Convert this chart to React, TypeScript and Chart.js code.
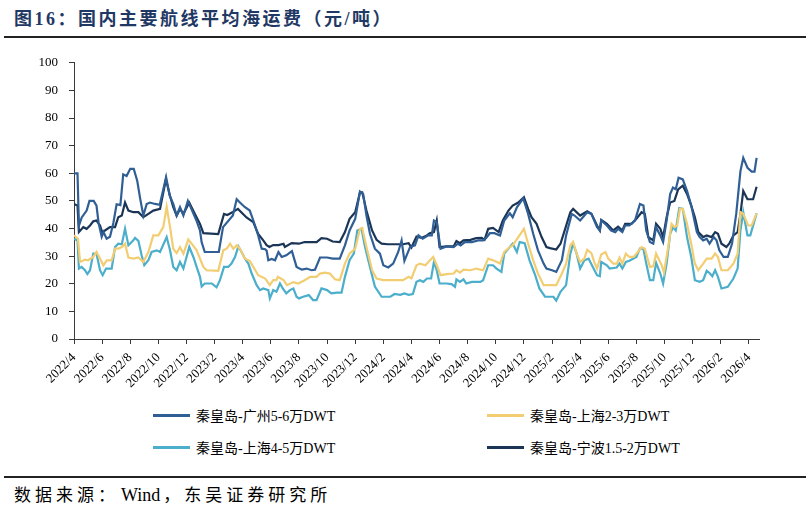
import React, { useEffect, useRef } from "react";
import { Chart, registerables } from "chart.js";

Chart.register(...registerables);

// x values are months counted from 2022/4 (0 = 2022/4, 48 = 2026/4)
const tickMonths = [0, 2, 4, 6, 8, 10, 12, 14, 16, 18, 20, 22, 24, 26, 28, 30, 32, 34, 36, 38, 40, 42, 44, 46, 48];
const tickLabels = [
  "2022/4", "2022/6", "2022/8", "2022/10", "2022/12",
  "2023/2", "2023/4", "2023/6", "2023/8", "2023/10", "2023/12",
  "2024/2", "2024/4", "2024/6", "2024/8", "2024/10", "2024/12",
  "2025/2", "2025/4", "2025/6", "2025/8", "2025/10", "2025/12",
  "2026/2", "2026/4",
];

const seriesNames = ["秦皇岛-广州5-6万DWT", "秦皇岛-上海2-3万DWT", "秦皇岛-上海4-5万DWT", "秦皇岛-宁波1.5-2万DWT"];
const seriesColors = ["#2F5F95", "#F2CD72", "#4BAECB", "#1B3556"];

// 秦皇岛-广州 5-6万DWT, [month, 元/吨]
const guangzhou56: [number, number][] = [
  [0, 60], [0.25, 60], [0.35, 41], [0.55, 44], [0.9, 46.5], [1.1, 50], [1.4, 50], [1.6, 48.3], [1.75, 42],
  [1.97, 37], [2.1, 38.7], [2.32, 36.3], [2.56, 37], [2.8, 42], [3.03, 48.8], [3.3, 48.5], [3.5, 59.6],
  [3.74, 59], [4.0, 61.6], [4.25, 61.6], [4.5, 57.2], [4.7, 51], [4.93, 44.7], [5.17, 48.9], [5.4, 49.4],
  [5.76, 48.9], [6.1, 48.6], [6.55, 58.6], [6.8, 52], [7.06, 48.9], [7.3, 44.7], [7.54, 47.7], [7.78, 44.7],
  [8.1, 50], [8.4, 46.5], [8.7, 43], [8.96, 39.3], [9.08, 35], [9.3, 31.5], [10.3, 31.5], [10.6, 40.5],
  [11.3, 44.7], [11.57, 50.6], [11.8, 49.4], [12.16, 47.7], [12.5, 46.5], [12.75, 43], [13.1, 37.5],
  [13.35, 32.7], [13.6, 32.5], [13.7, 32], [13.82, 28.5], [14.06, 29], [14.3, 28.5], [14.54, 31.5],
  [14.77, 29.7], [15.1, 30.3], [15.5, 31.8], [15.83, 26.1], [16.2, 25.1], [16.55, 25.5], [16.9, 24.9],
  [17.14, 25.1], [17.5, 29.5], [18, 29.5], [18.4, 29.1], [18.9, 29.1], [19.27, 33.9], [19.6, 39.3], [20, 43.5],
  [20.34, 53.4], [20.57, 52.5], [20.8, 44.7], [21.05, 38.1], [21.4, 32.7], [21.76, 30.9], [22, 26.7],
  [22.35, 25.9], [22.7, 27.3], [23.06, 31.5], [23.3, 35.7], [23.5, 28.3], [23.9, 33.3], [24.25, 33.9],
  [24.5, 37.5], [24.8, 36.3], [25.2, 37.5], [25.45, 37.5], [25.6, 42.9], [25.8, 42.3], [26.07, 32.7],
  [26.5, 33.5], [27, 33.3], [27.3, 34.5], [27.5, 33.9], [27.8, 35.1], [28.3, 35.1], [28.75, 35.7], [29.1, 35.7],
  [29.3, 36.5], [29.58, 38.3], [29.9, 38.3], [30.3, 37.5], [30.6, 42.9], [31, 45.5], [31.2, 44.1], [31.5, 47.7],
  [31.95, 50.9], [32.3, 45.3], [32.66, 38.1], [33.0, 32.1], [33.4, 27.3], [33.6, 25.5], [34, 24.9], [34.3, 24.3],
  [34.7, 28.5], [35, 37.5], [35.4, 45.3], [35.6, 44.7], [36, 42.9], [36.5, 45.9], [36.8, 45.3], [37.2, 40.5],
  [37.4, 39.3], [37.5, 42.9], [37.9, 41.1], [38.2, 39.3], [38.5, 38.7], [38.7, 39.9], [39, 38.7], [39.2, 41.1],
  [39.5, 41.1], [39.9, 42.9], [40.25, 48.9], [40.5, 48.3], [40.7, 39.3], [40.96, 35.1], [41.2, 34.5],
  [41.4, 40.5], [41.7, 37.5], [41.9, 35.1], [42.15, 42.9], [42.4, 52.5], [42.6, 54.8], [42.8, 54.2],
  [43.0, 58.4], [43.3, 57.8], [43.6, 53.6], [43.9, 48.3], [44.3, 38.7], [44.5, 36.9], [44.75, 35.7],
  [45.0, 36.3], [45.2, 34.5], [45.5, 36.9], [45.7, 35.7], [45.9, 32.1], [46.2, 29.7], [46.5, 29.7],
  [46.8, 34.5], [47.1, 45.3], [47.4, 60.8], [47.6, 65.6], [47.9, 62], [48.2, 60.6], [48.4, 60.6], [48.55, 65.6],
];

// 秦皇岛-上海 2-3万DWT
const shanghai23: [number, number][] = [
  [0, 37.5], [0.28, 36.3], [0.43, 27.9], [0.78, 28.7], [1.0, 28.5], [1.37, 29.7], [1.6, 31.5], [1.85, 29.1],
  [2.09, 26.7], [2.33, 28.5], [2.68, 28.5], [2.92, 32.7], [3.15, 32.7], [3.4, 33.3], [3.63, 34.5], [3.87, 29.5],
  [4.22, 29.1], [4.58, 29.5], [4.93, 27.9], [5.29, 31.5], [5.64, 37.5], [6.0, 37.5], [6.35, 40.5], [6.59, 47.9],
  [6.83, 40.5], [7.06, 32.7], [7.3, 31.1], [7.54, 33.3], [7.78, 30.9], [8.13, 36], [8.37, 34.5], [8.72, 32.1],
  [8.96, 29.1], [9.2, 26.1], [9.43, 24.9], [10.26, 24.7], [10.62, 32.1], [10.86, 32.7], [11.1, 34.5],
  [11.33, 32.7], [11.57, 33.9], [11.8, 32.7], [12.16, 29.1], [12.5, 28.3], [12.75, 26.1], [13.1, 23.1],
  [13.6, 21.9], [13.93, 19.5], [14.17, 21.3], [14.4, 21.3], [14.5, 22.5], [14.9, 21.3], [15.15, 19.5],
  [15.6, 20.6], [15.95, 20.1], [16.4, 21.3], [16.8, 22.5], [17.25, 22.5], [17.5, 23.7], [17.85, 24],
  [18.2, 23.7], [18.56, 21.6], [18.9, 21.3], [19.27, 27.3], [19.6, 30.9], [20, 32.7], [20.34, 39.9],
  [20.5, 40.2], [20.8, 33.3], [21.2, 24.9], [21.52, 21.9], [22, 21.3], [23.4, 21.3], [23.8, 22.5], [24, 21.9],
  [24.36, 26.7], [24.6, 27.3], [25, 26.7], [25.2, 27.9], [25.55, 29.7], [25.8, 26.7], [26.07, 23.1],
  [26.5, 23.5], [27, 23.7], [27.2, 24.9], [27.45, 24], [27.7, 25.1], [28.2, 24.9], [28.6, 25.5], [29.1, 24.9],
  [29.46, 29.1], [29.9, 28.3], [30.3, 27.3], [30.6, 31.5], [31, 33.3], [31.2, 33.9], [31.6, 36.9], [32, 39.9],
  [32.3, 34.5], [32.66, 28.5], [33, 23.7], [33.4, 19.5], [34.3, 19.5], [34.7, 23.7], [35, 27.3], [35.3, 33.9],
  [35.5, 35.1], [35.75, 30.9], [36, 27.9], [36.3, 29.1], [36.5, 32.3], [36.8, 31.1], [37, 27.9], [37.2, 25.5],
  [37.5, 30.6], [37.8, 31.5], [38, 29.1], [38.35, 27.3], [38.6, 27.3], [38.8, 29.5], [39, 27.3], [39.25, 30.9],
  [39.5, 29.7], [39.8, 29.7], [40.1, 31.5], [40.37, 33.3], [40.6, 32.7], [40.96, 26.1], [41.2, 26.3],
  [41.4, 30.9], [41.8, 26.7], [41.96, 24], [42.3, 34.5], [42.5, 41.7], [42.7, 40.5], [42.9, 41.1], [43.1, 47.1],
  [43.3, 47.1], [43.6, 41.7], [43.9, 34.5], [44.16, 27.3], [44.4, 24.9], [44.75, 27.3], [45, 29.1],
  [45.35, 29.1], [45.6, 30.9], [45.8, 29.7], [46.05, 24.9], [46.5, 24.9], [46.9, 27.3], [47.2, 30.9],
  [47.4, 45.9], [47.6, 45.3], [47.95, 41.1], [48.2, 41.1], [48.55, 45.5],
];

// 秦皇岛-上海 4-5万DWT
const shanghai45: [number, number][] = [
  [0, 36.3], [0.25, 35.7], [0.35, 25.5], [0.54, 26.1], [0.78, 24.9], [0.95, 23.5], [1.14, 24.9], [1.37, 30.9],
  [1.6, 30.9], [1.85, 24.9], [2.04, 23.1], [2.28, 25.5], [2.68, 25.5], [2.92, 33.3], [3.15, 34.5], [3.4, 34.3],
  [3.63, 39.9], [3.87, 33.9], [4.22, 35.7], [4.34, 36.6], [4.58, 35.5], [4.81, 30.3], [5.0, 26.7], [5.29, 28.5],
  [5.52, 31.5], [5.88, 32.1], [6.12, 31.5], [6.59, 36.9], [6.83, 32.1], [7.06, 26.1], [7.3, 24.9], [7.54, 27.9],
  [7.78, 25.5], [8.2, 33.3], [8.49, 29.7], [8.72, 26.1], [8.96, 22.5], [9.08, 19], [9.3, 20.1], [9.8, 20.1],
  [10.14, 18.7], [10.38, 21.3], [10.67, 26.1], [10.97, 26.1], [11.2, 27.3], [11.45, 29.7], [11.69, 33.5],
  [11.92, 31.5], [12.16, 29.1], [12.4, 27.3], [12.64, 23.7], [12.99, 19.5], [13.23, 17.7], [13.45, 18.3],
  [13.82, 17.7], [13.93, 14.7], [14.17, 17.7], [14.4, 17.1], [14.65, 20.1], [14.85, 18.3], [15.1, 16.5],
  [15.36, 17.7], [15.6, 18.3], [15.83, 15.3], [16.0, 14.7], [16.3, 15.3], [16.7, 15.9], [17.0, 14.1],
  [17.25, 14.1], [17.6, 18.3], [18, 17.7], [18.3, 16.5], [18.7, 16.8], [19.03, 16.8], [19.27, 22.5],
  [19.6, 28.5], [19.9, 30.9], [20.15, 39.3], [20.45, 39.9], [20.7, 33.3], [21.05, 26.1], [21.4, 19],
  [21.88, 15.3], [22.5, 15.3], [22.8, 16.3], [23.2, 16], [23.5, 16.5], [23.8, 16], [24.1, 16.3], [24.36, 20.7],
  [24.6, 21.3], [24.85, 20.7], [25.1, 21.9], [25.4, 21.9], [25.6, 27.9], [25.8, 24.9], [26.0, 20.1],
  [26.5, 20.1], [26.85, 19.9], [27.1, 18.9], [27.2, 21.6], [27.45, 20.7], [27.7, 21.6], [27.9, 20.1],
  [28.3, 20.7], [28.9, 20.7], [29.1, 21.3], [29.46, 26.7], [29.8, 26.7], [30.05, 25.5], [30.4, 24.3],
  [30.6, 30.9], [31, 33.3], [31.2, 34.5], [31.5, 31.5], [31.7, 35.1], [32.05, 34.7], [32.4, 28.5], [32.8, 23.1],
  [33.1, 18.3], [33.5, 15.3], [34.1, 15.3], [34.3, 13.9], [34.6, 17.1], [35, 19.5], [35.3, 30.9], [35.5, 34.5],
  [35.75, 30.9], [36, 25.5], [36.3, 28.5], [36.6, 29.1], [36.9, 26.1], [37.2, 23.1], [37.4, 22.7], [37.5, 27.9],
  [37.9, 26.7], [38.1, 25.5], [38.6, 25.9], [38.8, 27.3], [39, 25.5], [39.25, 27.9], [39.5, 28.3], [40, 29.7],
  [40.25, 32.7], [40.5, 32.7], [40.7, 27.3], [40.96, 21.3], [41.2, 21.3], [41.4, 27.6], [41.7, 23.7],
  [41.9, 20.1], [42.15, 27.3], [42.4, 38.1], [42.6, 40.5], [42.8, 39.3], [43.05, 47.4], [43.3, 47.1],
  [43.6, 36.9], [43.9, 29.7], [44.16, 21.3], [44.5, 20.7], [44.75, 21.3], [45, 24.7], [45.2, 23.9],
  [45.4, 22.7], [45.6, 24.9], [45.8, 22.5], [46.05, 18.3], [46.5, 18.9], [46.9, 21.9], [47.2, 25.5],
  [47.4, 39.3], [47.6, 45.9], [47.9, 37.5], [48.1, 37.5], [48.55, 45.5],
];

// 秦皇岛-宁波 1.5-2万DWT
const ningbo152: [number, number][] = [
  [0, 48.9], [0.25, 48.3], [0.35, 38.7], [0.66, 40.5], [0.9, 39.9], [1.14, 41.1], [1.37, 42.6], [1.6, 42.9],
  [1.85, 41.1], [2.0, 38.7], [2.2, 39.3], [2.56, 40.5], [2.92, 40.5], [3.15, 44.1], [3.4, 44.7], [3.63, 49.4],
  [3.87, 46.5], [4.22, 45.9], [4.58, 45.9], [4.93, 44.1], [5.29, 45.3], [5.64, 46.5], [6.12, 47.1],
  [6.54, 57.8], [6.83, 51.8], [7.06, 47.7], [7.3, 44.7], [7.54, 47.1], [7.78, 45.3], [8.2, 49.4], [8.6, 45.3],
  [8.96, 41.7], [9.2, 38.3], [10.26, 38], [10.67, 45.3], [10.9, 44.9], [11.3, 46], [11.66, 47.1], [12.27, 44],
  [12.75, 42.3], [13.1, 38], [13.46, 35.7], [13.7, 34], [13.9, 33.3], [14.17, 34], [14.55, 34], [14.9, 34.5],
  [15.0, 33.3], [15.48, 34.7], [16.0, 34.5], [16.4, 35.1], [17.26, 35.1], [17.6, 36.5], [18, 36.3],
  [18.4, 35.3], [18.9, 35.1], [19.27, 38.7], [19.6, 43.5], [20, 45.9], [20.34, 53.1], [20.5, 53.1],
  [20.8, 46.5], [21.2, 39.3], [21.52, 35.9], [21.88, 34.5], [22.3, 34.3], [23.4, 34.3], [23.8, 34.7],
  [24, 33.1], [24.36, 37.1], [24.7, 36.6], [25.1, 37.5], [25.3, 38.3], [25.6, 38.7], [25.8, 42.9], [26.0, 33.3],
  [26.5, 33.5], [27, 33.5], [27.2, 35.5], [27.45, 34.7], [27.7, 35.7], [28.2, 35.9], [28.6, 36.5], [29, 36.6],
  [29.2, 35.9], [29.46, 39.9], [29.8, 40.2], [30.2, 38.7], [30.5, 42.9], [30.9, 46.5], [31.2, 48.3],
  [31.6, 49.4], [32, 51.3], [32.3, 47.1], [32.54, 44.1], [32.9, 41.7], [33.25, 37], [33.6, 33.3], [33.85, 32.9],
  [34.3, 32.4], [34.6, 34.5], [34.9, 39.3], [35.3, 45.9], [35.5, 47.1], [36, 44.7], [36.5, 46.2], [36.8, 45.3],
  [37.2, 41.1], [37.4, 39.3], [37.5, 43.1], [37.9, 41.7], [38.35, 39.3], [38.7, 40.7], [39, 39.3], [39.2, 41.7],
  [39.65, 41.7], [40, 43.5], [40.37, 45.9], [40.6, 45.3], [40.85, 36.9], [41.2, 35.7], [41.4, 41.7],
  [41.7, 39.9], [41.9, 36.9], [42.15, 44.1], [42.4, 49.4], [42.7, 50], [42.97, 54.2], [43.3, 55.5],
  [43.6, 52.5], [43.9, 48.3], [44.16, 44.1], [44.4, 38.7], [44.75, 36.9], [45.0, 37.5], [45.35, 36.9],
  [45.6, 38.7], [45.8, 38.1], [46.05, 34.5], [46.4, 33.3], [46.6, 34.5], [46.9, 37.5], [47.2, 38.7],
  [47.4, 45.3], [47.6, 53.6], [47.9, 50.6], [48.3, 50.6], [48.55, 55.1],
];

const seriesData = [guangzhou56, shanghai23, shanghai45, ningbo152];

const latinFont = '"Liberation Serif", "Times New Roman", serif';
const mixedFont = '"Liberation Serif", "Noto Sans CJK SC", serif';

function FreightChart() {
  const canvasRef = useRef<HTMLCanvasElement | null>(null);

  useEffect(() => {
    const canvas = canvasRef.current;
    if (!canvas) return;
    const axisColor = "#3a3a3a";
    const chart = new Chart(canvas, {
      type: "line",
      data: {
        datasets: seriesData.map((pts, i) => ({
          label: seriesNames[i],
          data: pts.map(([x, y]) => ({ x, y })),
          borderColor: seriesColors[i],
          backgroundColor: seriesColors[i],
          borderWidth: 2.2,
          pointRadius: 0,
          tension: 0,
          fill: false,
        })),
      },
      options: {
        animation: false,
        responsive: false,
        maintainAspectRatio: false,
        devicePixelRatio: 1,
        layout: { padding: { top: 17, right: 50, left: 0, bottom: 0 } },
        plugins: { legend: { display: false }, tooltip: { enabled: false } },
        scales: {
          x: {
            type: "linear",
            min: 0,
            max: 48.72,
            afterBuildTicks: (scale: any) => {
              scale.ticks = tickMonths.map((v) => ({ value: v }));
            },
            afterFit: (scale: any) => {
              scale.height = 60;
            },
            ticks: {
              autoSkip: false,
              minRotation: 45,
              maxRotation: 45,
              padding: 6,
              color: "#000",
              font: { family: latinFont, size: 13 },
              callback: (_v: any, i: number) => tickLabels[i],
            },
            grid: { drawOnChartArea: false, drawTicks: true, tickLength: 5, color: axisColor },
            border: { display: true, color: axisColor, width: 1 },
          },
          y: {
            min: 0,
            max: 100,
            afterFit: (scale: any) => {
              scale.width = 74;
            },
            ticks: {
              stepSize: 10,
              padding: 11,
              color: "#000",
              font: { family: latinFont, size: 13 },
            },
            grid: { drawOnChartArea: false, drawTicks: true, tickLength: 5, color: axisColor },
            border: { display: true, color: axisColor, width: 1 },
          },
        },
      },
    });
    return () => chart.destroy();
  }, []);

  return (
    <canvas
      ref={canvasRef}
      width={809}
      height={355}
      style={{ position: "absolute", left: 0, top: 44, width: 809, height: 355 }}
    />
  );
}

function LegendItem({ index, left, top }: { index: number; left: number; top: number }) {
  return (
    <div style={{ position: "absolute", left, top, height: 20, display: "flex", alignItems: "center" }}>
      <div style={{ width: 37, height: 3, background: seriesColors[index], marginRight: 6 }} />
      <span style={{ fontFamily: mixedFont, fontSize: 14, color: "#000", whiteSpace: "nowrap" }}>
        {seriesNames[index]}
      </span>
    </div>
  );
}

export default function App() {
  useEffect(() => {
    document.body.style.margin = "0";
  }, []);

  const cjk = { letterSpacing: 4 };
  const latin = { letterSpacing: 0, fontSize: 18, margin: "0 3px 0 2px" };

  return (
    <div style={{ position: "relative", width: 809, height: 507, background: "#fff", overflow: "hidden" }}>
      <div
        style={{
          position: "absolute",
          left: 14,
          top: 4,
          fontFamily: mixedFont,
          fontWeight: 700,
          fontSize: 18,
          letterSpacing: 2.5,
          color: "#1F3864",
          whiteSpace: "nowrap",
        }}
      >
        图16：国内主要航线平均海运费（元/吨）
      </div>
      <div style={{ position: "absolute", left: 4, top: 36, width: 802, height: 2, background: "#222" }} />

      <FreightChart />

      <LegendItem index={0} left={153} top={405} />
      <LegendItem index={1} left={487} top={405} />
      <LegendItem index={2} left={153} top={437} />
      <LegendItem index={3} left={487} top={437} />

      <div style={{ position: "absolute", left: 4, top: 476, width: 802, height: 2, background: "#222" }} />
      <div
        style={{
          position: "absolute",
          left: 14,
          top: 481,
          fontFamily: mixedFont,
          fontSize: 17,
          color: "#000",
          whiteSpace: "nowrap",
        }}
      >
        <span style={cjk}>数据来源：</span>
        <span style={latin}>Wind</span>
        <span style={cjk}>，东吴证券研究所</span>
      </div>
    </div>
  );
}
